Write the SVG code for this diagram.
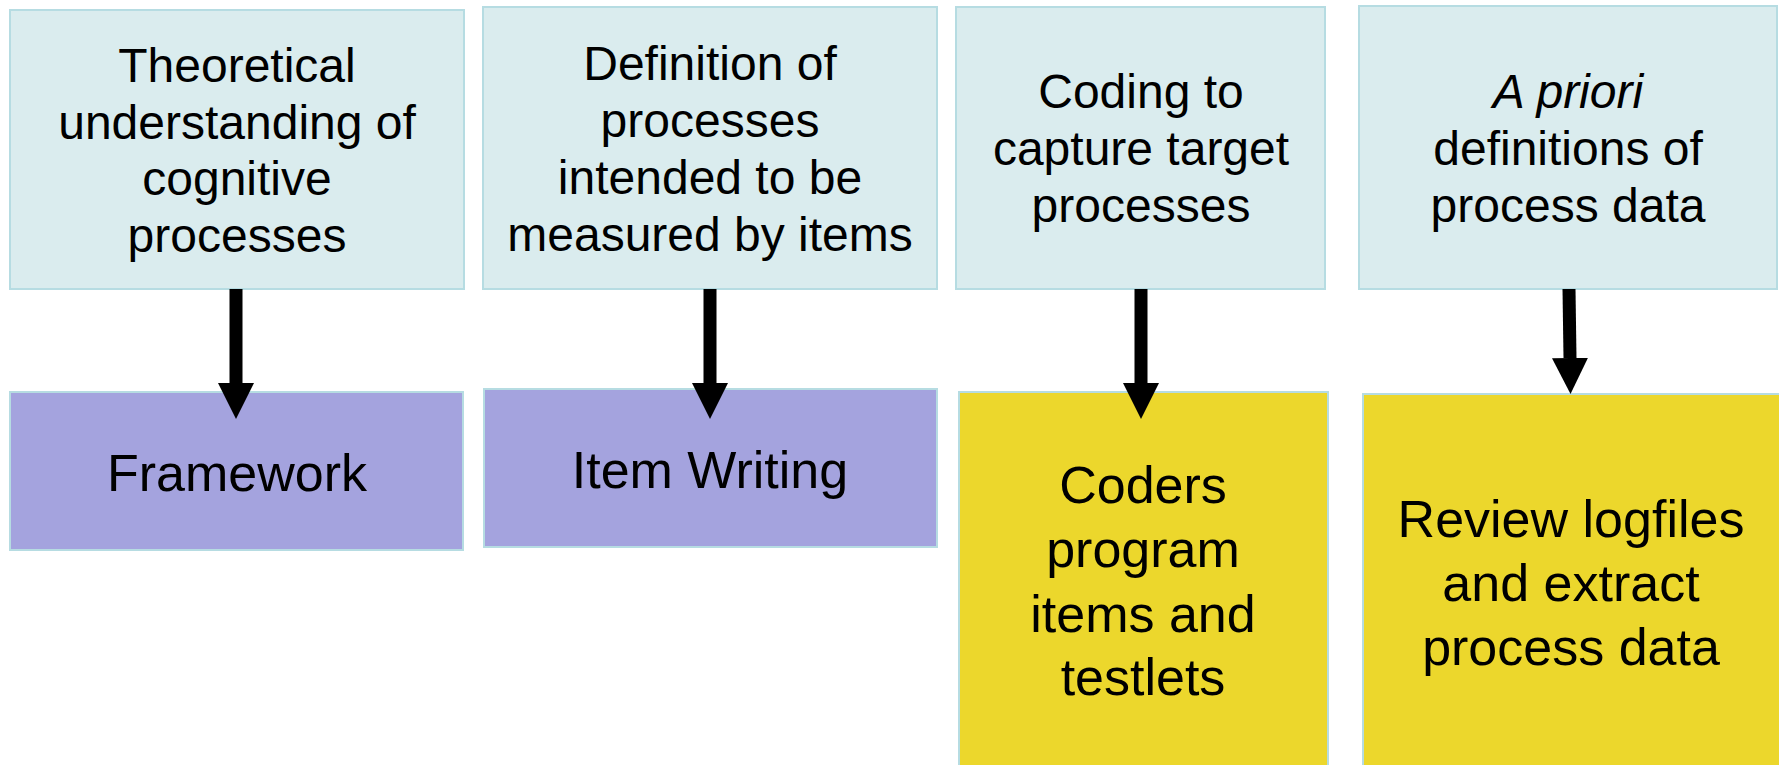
<svg xmlns="http://www.w3.org/2000/svg" width="1779" height="765" viewBox="0 0 1779 765">
<defs>
<style>
.top{fill:#DAECEE;stroke:#B6DCE2;stroke-width:2}
.purple{fill:#A4A3DE;stroke:#B6DCE2;stroke-width:2}
.yellow{fill:#ECD72C;stroke:#B6DCE2;stroke-width:2}
text{font-family:"Liberation Sans",Arial,sans-serif;fill:#000;text-anchor:middle}
.t48{font-size:48px}
.t52{font-size:52px}
.conn{stroke:#000;stroke-width:13;fill:none}
</style>
<marker id="ah" markerUnits="userSpaceOnUse" markerWidth="36" markerHeight="36" refX="0" refY="18" orient="auto">
<path d="M0,0 L36,18 L0,36 z" fill="#000"/>
</marker>
</defs>
<rect width="1779" height="765" fill="#fff"/>
<g id="n1">
<rect class="top" x="10" y="10" width="454" height="279"/>
<text class="t48" x="237" y="82">Theoretical</text>
<text class="t48" x="237" y="139">understanding of</text>
<text class="t48" x="237" y="195">cognitive</text>
<text class="t48" x="237" y="252">processes</text>
</g>
<g id="n2">
<rect class="top" x="483" y="7" width="454" height="282"/>
<text class="t48" x="710" y="80">Definition of</text>
<text class="t48" x="710" y="137">processes</text>
<text class="t48" x="710" y="194">intended to be</text>
<text class="t48" x="710" y="251">measured by items</text>
</g>
<g id="n3">
<rect class="top" x="956" y="7" width="369" height="282"/>
<text class="t48" x="1141" y="108">Coding to</text>
<text class="t48" x="1141" y="165">capture target</text>
<text class="t48" x="1141" y="222">processes</text>
</g>
<g id="n4">
<rect class="top" x="1359" y="6" width="418" height="283"/>
<text class="t48" x="1568" y="108" font-style="italic">A priori</text>
<text class="t48" x="1568" y="165">definitions of</text>
<text class="t48" x="1568" y="222">process data</text>
</g>
<g id="n5">
<rect class="purple" x="10" y="392" width="453" height="158"/>
<text class="t52" x="237" y="491">Framework</text>
</g>
<g id="n6">
<rect class="purple" x="484" y="389" width="453" height="158"/>
<text class="t52" x="710" y="488">Item Writing</text>
</g>
<g id="n7">
<rect class="yellow" x="959" y="392" width="369" height="380"/>
<text class="t52" x="1143" y="503">Coders</text>
<text class="t52" x="1143" y="567">program</text>
<text class="t52" x="1143" y="632">items and</text>
<text class="t52" x="1143" y="695">testlets</text>
</g>
<g id="n8">
<rect class="yellow" x="1363" y="394" width="420" height="380"/>
<text class="t52" x="1571" y="537">Review logfiles</text>
<text class="t52" x="1571" y="601">and extract</text>
<text class="t52" x="1571" y="665">process data</text>
</g>
<g id="connectors">
<line class="conn" x1="236" y1="289" x2="236" y2="383" marker-end="url(#ah)"/>
<line class="conn" x1="710" y1="289" x2="710" y2="383" marker-end="url(#ah)"/>
<line class="conn" x1="1141" y1="289" x2="1141" y2="383" marker-end="url(#ah)"/>
<line class="conn" x1="1569" y1="289" x2="1570" y2="358" marker-end="url(#ah)"/>
</g>
</svg>
